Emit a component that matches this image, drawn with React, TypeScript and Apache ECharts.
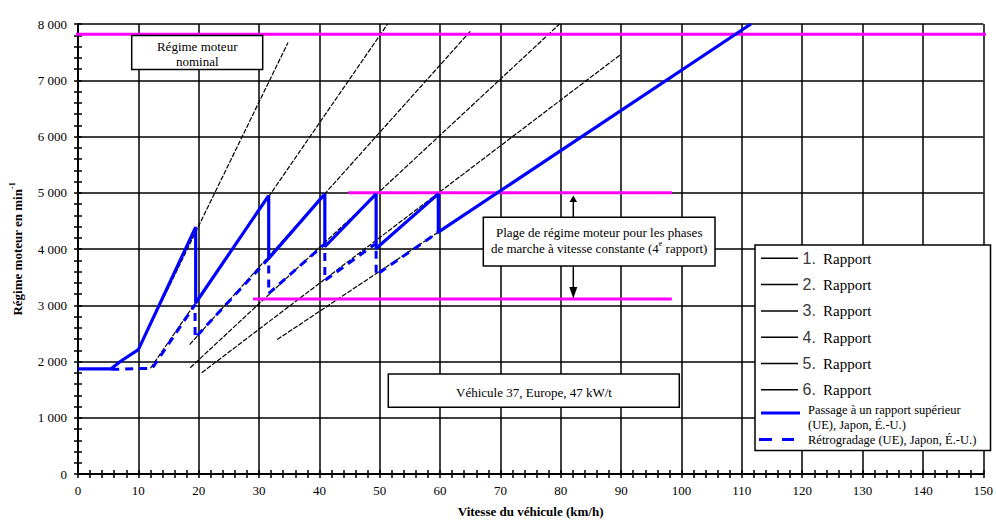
import React, { useEffect, useRef } from 'react';
import * as echarts from 'echarts';

const SERIF = 'Liberation Serif';
const SANS = 'Liberation Sans';

// Axes
const xMin = 0;
const xMax = 150;
const xStep = 10;
const yMin = 0;
const yMax = 8000;
const yStep = 1000;

// Gear lines (start / end points): [km/h, min-1]
const gear1 = [[10, 2210], [34.8, 7670]];
const gear2 = [[12, 1880], [51.3, 8000]];
const gear3 = [[18.5, 2300], [65.0, 7870]];
const gear4 = [[18.6, 1890], [79.8, 8000]];
const gear5 = [[20.5, 1800], [89.9, 7456]];
const gear6 = [[33.0, 2390], [111.5, 8000]];
const gearLines = [gear1, gear2, gear3, gear4, gear5, gear6];

// Upshift trace (solid blue)
const upshift = [
  [0, 1870], [5.5, 1870], [7, 2000], [10, 2210], [19.5, 4390],
  [19.5, 3040], [31.6, 4950],
  [31.6, 3830], [40.9, 4980],
  [40.9, 4040], [49.4, 4980],
  [49.4, 4010], [59.7, 4980],
  [59.7, 4300], [111.5, 8000],
];

// Downshift trace (dashed blue)
const downshift = [
  [5.5, 1860], [12.3, 1880], [19.4, 3010],
  [19.4, 2420], [31.6, 3830],
  [31.6, 3210], [40.9, 4090],
  [40.9, 3440], [49.4, 4100],
  [49.4, 3540], [59.7, 4300],
];

// Magenta reference lines
const ratedSpeed = [[-0.5, 7820], [151, 7820]];
const cruiseHigh = [[44.8, 5000], [98.4, 5000]];
const cruiseLow = [[29.0, 3110], [98.4, 3110]];

const gearLabels = ['1.', '2.', '3.', '4.', '5.', '6.'];
const gearWord = 'Rapport';
const upLabel = ['Passage à un rapport supérieur', '(UE), Japon, É.-U.)'];
const downLabel = 'Rétrogradage (UE), Japon, É.-U.)';

const fmt = (v: number) => String(v).replace(/\B(?=(\d{3})+(?!\d))/g, ' ');

export default function App() {
  const ref = useRef<HTMLDivElement>(null);

  useEffect(() => {
    if (!ref.current) return;
    const chart = echarts.init(ref.current, undefined, { renderer: 'svg' });

    const box = (x: number, y: number, w: number, h: number) => ({
      type: 'rect', z: 100,
      shape: { x, y, width: w, height: h },
      style: { fill: '#fff', stroke: '#000', lineWidth: 1.5 },
    });
    const txt = (x: number, y: number, text: string, extra: any = {}) => ({
      type: 'text', z: 101, x, y,
      style: {
        text, fill: '#000', fontFamily: SERIF, fontSize: 13,
        align: 'center', verticalAlign: 'middle', ...extra,
      },
    });
    const seg = (x1: number, y1: number, x2: number, y2: number, stroke: string, lw: number) => ({
      type: 'line', z: 101,
      shape: { x1, y1, x2, y2 },
      style: { stroke, lineWidth: lw },
    });

    const graphic: any[] = [];
    // Box: rated engine speed
    graphic.push(box(131.7, 35.5, 131, 34));
    graphic.push(txt(197.2, 46, 'Régime moteur'));
    graphic.push(txt(197.2, 61, 'nominal'));
    // Box: cruise speed range
    graphic.push(box(483.3, 217.3, 231.7, 48.7));
    graphic.push(txt(599.2, 232, 'Plage de régime moteur pour les phases'));
    graphic.push({
      type: 'text', z: 101, x: 599.2, y: 248,
      style: {
        text: 'de marche à vitesse constante (4{sup|e} rapport)',
        fill: '#000', fontFamily: SERIF, fontSize: 13, lineHeight: 18,
        align: 'center', verticalAlign: 'middle',
        rich: { sup: { fontSize: 8, lineHeight: 8, verticalAlign: 'top', fontFamily: SERIF, fill: '#000' } },
      },
    });
    // Arrows
    graphic.push(seg(573.3, 201, 573.3, 217.3, '#000', 1.5));
    graphic.push({ type: 'polygon', z: 101, shape: { points: [[569.5, 202], [577.1, 202], [573.3, 195.5]] }, style: { fill: '#000' } });
    graphic.push(seg(573.3, 266, 573.3, 288, '#000', 1.5));
    graphic.push({ type: 'polygon', z: 101, shape: { points: [[569.3, 287], [577.3, 287], [573.3, 298.5]] }, style: { fill: '#000' } });
    // Box: vehicle
    graphic.push(box(388.3, 374, 291, 33.3));
    graphic.push(txt(534, 392, 'Véhicule 37, Europe, 47 kW/t'));
    // Legend
    graphic.push(box(755, 245, 235.5, 205.5));
    gearLabels.forEach((g, i) => {
      const y = 258.3 + i * 26.3;
      graphic.push(seg(761, y, 798, y, '#000', 1.5));
      graphic.push(txt(802.5, y, g, { align: 'left', fontFamily: SANS, fontSize: 16, fill: '#3a3a3a' }));
      graphic.push(txt(823, y + 0.5, gearWord, { align: 'left', fontSize: 15 }));
    });
    graphic.push(seg(761, 413, 800, 413, '#0000ff', 3));
    graphic.push(txt(808, 410, upLabel[0], { align: 'left', fontSize: 12.5 }));
    graphic.push(txt(808, 424.5, upLabel[1], { align: 'left', fontSize: 12.5 }));
    graphic.push(seg(759, 439.5, 772, 439.5, '#0000ff', 3));
    graphic.push(seg(782, 439.5, 794, 439.5, '#0000ff', 3));
    graphic.push(txt(808, 439.5, downLabel, { align: 'left', fontSize: 12.5 }));

    const lineSeries = (name: string, data: number[][], color: string, width: number, type: any = 'solid', extra: any = {}) => ({
      name, type: 'line', data, showSymbol: false, symbol: 'none', silent: true,
      lineStyle: { color, width, type }, ...extra,
    });

    const series: any[] = [];
    gearLines.forEach((g, i) => {
      series.push(lineSeries(`${gearLabels[i]} ${gearWord}`, g, '#000', 1.2, [5, 1.5], { z: 2 }));
    });
    series.push(lineSeries('rated', ratedSpeed, '#ff00ff', 3, 'solid', { z: 3, clip: false }));
    series.push(lineSeries('cruiseHigh', cruiseHigh, '#ff00ff', 3, 'solid', { z: 3 }));
    series.push(lineSeries('cruiseLow', cruiseLow, '#ff00ff', 3, 'solid', { z: 3 }));
    series.push(lineSeries('down', downshift, '#0000ff', 3, [8, 6], { z: 4 }));
    series.push(lineSeries('up', upshift, '#0000ff', 3.2, 'solid', { z: 5 }));

    const axisFont = { fontFamily: SERIF, fontSize: 13, color: '#000' };
    const tickStyle = { color: '#000', width: 1.5 };

    chart.setOption({
      animation: false,
      backgroundColor: '#fff',
      textStyle: { fontFamily: SERIF },
      grid: { left: 75, right: 6, top: 24, bottom: 46 },
      xAxis: [
        {
          type: 'value', min: xMin, max: xMax, interval: xStep,
          axisLine: { show: true, lineStyle: { color: '#000', width: 2 } },
          axisTick: { show: true, length: 4, lineStyle: tickStyle },
          minorTick: { show: true, splitNumber: 5, length: 4, lineStyle: tickStyle },
          splitLine: { show: true, lineStyle: { color: '#000', width: 1.5 } },
          axisLabel: { ...axisFont, margin: 10 },
          name: 'Vitesse du véhicule (km/h)', nameLocation: 'middle', nameGap: 31,
          nameTextStyle: { fontFamily: SERIF, fontSize: 13, fontWeight: 'bold', color: '#000' },
        },
        {
          type: 'value', position: 'bottom', min: xMin, max: xMax, interval: xStep,
          axisLine: { show: false }, axisLabel: { show: false }, splitLine: { show: false },
          axisTick: { show: true, inside: true, length: 4, lineStyle: tickStyle },
          minorTick: { show: true, splitNumber: 5, length: 4, lineStyle: tickStyle },
        },
      ],
      yAxis: [
        {
          type: 'value', min: yMin, max: yMax, interval: yStep,
          axisLine: { show: true, lineStyle: { color: '#000', width: 2 } },
          axisTick: { show: true, length: 4, lineStyle: tickStyle },
          minorTick: { show: true, splitNumber: 5, length: 4, lineStyle: tickStyle },
          splitLine: { show: true, lineStyle: { color: '#000', width: 1.5 } },
          axisLabel: { ...axisFont, margin: 11, formatter: (v: number) => fmt(v) },
          name: 'Régime moteur en min{sup|-1}', nameLocation: 'middle', nameGap: 52,
          nameTextStyle: {
            fontFamily: SERIF, fontSize: 13, fontWeight: 'bold', color: '#000', lineHeight: 18,
            rich: { sup: { fontSize: 8, lineHeight: 8, verticalAlign: 'top', fontWeight: 'bold', fontFamily: SERIF, color: '#000' } },
          },
        },
        {
          type: 'value', position: 'left', min: yMin, max: yMax, interval: yStep,
          axisLine: { show: false }, axisLabel: { show: false }, splitLine: { show: false },
          axisTick: { show: true, inside: true, length: 4, lineStyle: tickStyle },
          minorTick: { show: true, splitNumber: 5, length: 4, lineStyle: tickStyle },
        },
      ],
      series,
      graphic,
    });

    return () => chart.dispose();
  }, []);

  return (
    <div
      ref={ref}
      style={{ position: 'fixed', left: 0, top: 0, width: 996, height: 523, background: '#fff' }}
    />
  );
}
